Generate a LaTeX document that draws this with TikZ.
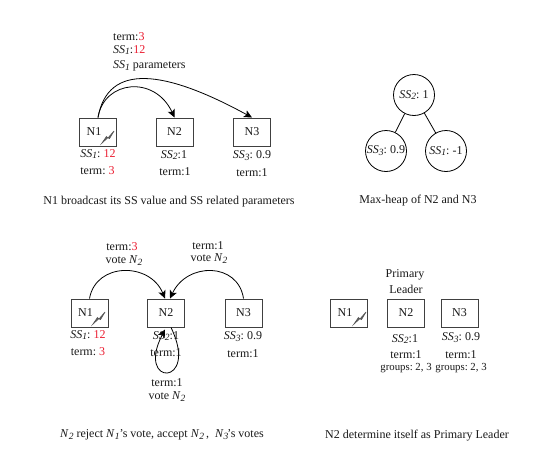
\documentclass[tikz,border=0pt]{standalone}
\usepackage{fontspec}
\setmainfont{Liberation Serif}
\usetikzlibrary{arrows.meta}
\definecolor{tred}{RGB}{235,30,50}
\newcommand\subit[2]{\textit{#1}\raisebox{-0.35ex}{\fontsize{9.5}{10}\selectfont\textit{#2}}}
\newcommand\redt[1]{\textcolor{tred}{#1}}
\tikzset{
  x=1pt,y=-1pt,
  every node/.style={font=\frenchspacing\fontsize{12}{13}\selectfont,inner sep=0pt,text=black!90},
  box/.style={draw=black!75,line width=1pt,minimum width=37pt,minimum height=28pt,fill=white},
  heap/.style={draw=black,line width=0.8pt,circle,minimum size=41pt},
  arc/.style={draw=black,line width=0.8pt,-{Stealth[length=8pt,width=7.5pt,inset=2pt]}},
  edge/.style={draw=black,line width=0.8pt},
  bolt/.style={draw=black!65,line width=0.7pt,fill=black!65},
  lbl/.style={anchor=center,yshift=-1pt},
  grp/.style={lbl,font=\frenchspacing\fontsize{10.8}{12}\selectfont},
}
\begin{document}
\begin{tikzpicture}
\useasboundingbox (0,0) rectangle (548,474);
% panel 1
\node[box] (a1) at (98,132) {\hspace*{-4pt}N1\hspace*{4pt}};
\node[box] (a2) at (174.5,132) {N2};
\node[box] (a3) at (252,132) {N3};
\draw[arc] (a1.north) .. controls (104,80) and (155,75) .. (a2.north);
\draw[arc] (a1.north) .. controls (108,62) and (165,70) .. (a3.north);
\draw[bolt] (102,143) -- (106.5,136.5) -- (108,138) -- (114,131) -- (109.5,138.5) -- (108,137.5) -- cycle;
\node[lbl,anchor=west] (a4) at (113,36) {term:\redt{3}};
\node[lbl,anchor=west] (a5) at (113,49) {\subit{SS}{1}:\redt{12}};
\node[lbl,anchor=west] (a6) at (113,65) {\subit{SS}{1} parameters};
\node[lbl] (a7) at (98,153) {\subit{SS}{1}: \redt{12}};
\node[lbl] (a8) at (97.5,170) {term: \redt{3}};
\node[lbl] (a9) at (174,154) {\subit{SS}{2}:1};
\node[lbl] (a10) at (175,171) {term:1};
\node[lbl] (a11) at (252,155) {\subit{SS}{3}: 0.9};
\node[lbl] (a12) at (252,172) {term:1};
\node[lbl] (a13) at (169,201) {N1 broadcast its SS value and SS related parameters};
% heap
\node[heap] (h1) at (414,95) {\subit{SS}{2}: 1};
\node[heap] (h2) at (386,151) {\subit{SS}{3}: 0.9};
\node[heap] (h3) at (446,151) {\subit{SS}{1}: -1};
\draw[edge] (h1) -- (h2);
\draw[edge] (h1) -- (h3);
\node[lbl] (h4) at (418,200) {Max-heap of N2 and N3};
% panel 3
\node[box] (b1) at (89.5,313) {\hspace*{-4pt}N1\hspace*{4pt}};
\node[box] (b2) at (166,313) {N2};
\node[box] (b3) at (243.5,313) {N3};
\draw[bolt] (93,324) -- (97.5,317.5) -- (99,319) -- (105,312) -- (100.5,319.5) -- (99,318.5) -- cycle;
\draw[arc] (b1.north) .. controls (96,262) and (150,262) .. ([xshift=-1pt]b2.north);
\draw[arc] (b3.north) .. controls (238,262) and (187,262) .. ([xshift=4pt]b2.north);
\draw[arc] ([xshift=5pt]b2.south) .. controls (200,387) and (135,387) .. ([xshift=-1pt,yshift=-2pt]b2.south);
\node[lbl] (b4) at (122,246) {term:\redt{3}};
\node[lbl] (b5) at (124,260) {vote \subit{N}{2}};
\node[lbl] (b6) at (208,245) {term:1};
\node[lbl] (b7) at (209,258) {vote \subit{N}{2}};
\node[lbl] (b8) at (88,334) {\subit{SS}{1}: \redt{12}};
\node[lbl] (b9) at (88,351) {term: \redt{3}};
\node[lbl] (b10) at (166,335) {\subit{SS}{2}:1};
\node[lbl] (b11) at (166,352) {term:1};
\node[lbl] (b12) at (243,336) {\subit{SS}{3}: 0.9};
\node[lbl] (b13) at (243,353) {term:1};
\node[lbl] (b14) at (167,382) {term:1};
\node[lbl] (b15) at (167,396) {vote \subit{N}{2}};
\node[lbl] (b16) at (162,434) {\subit{N}{2} reject \subit{N}{1}'s vote, accept \subit{N}{2}\,,\ \ \subit{N}{3}\hspace*{-1pt}'s votes};
% panel 4
\node[box] (c1) at (349,313) {\hspace*{-4pt}N1\hspace*{4pt}};
\node[box] (c2) at (406,313) {N2};
\node[box] (c3) at (459.5,313) {N3};
\draw[bolt] (354,324) -- (358.5,317.5) -- (360,319) -- (366,312) -- (361.5,319.5) -- (360,318.5) -- cycle;
\node[lbl] (c4) at (405,274) {Primary};
\node[lbl] (c5) at (406,288) {Leader};
\node[lbl] (c6) at (405,338) {\subit{SS}{2}:1};
\node[lbl] (c7) at (406,354) {term:1};
\node[grp] (c8) at (406,367) {groups: 2, 3};
\node[lbl] (c9) at (461,337) {\subit{SS}{3}: 0.9};
\node[lbl] (c10) at (461,354) {term:1};
\node[grp] (c11) at (461,367) {groups: 2, 3};
\node[lbl] (c12) at (417,435) {N2 determine itself as Primary Leader};
\end{tikzpicture}
\end{document}
